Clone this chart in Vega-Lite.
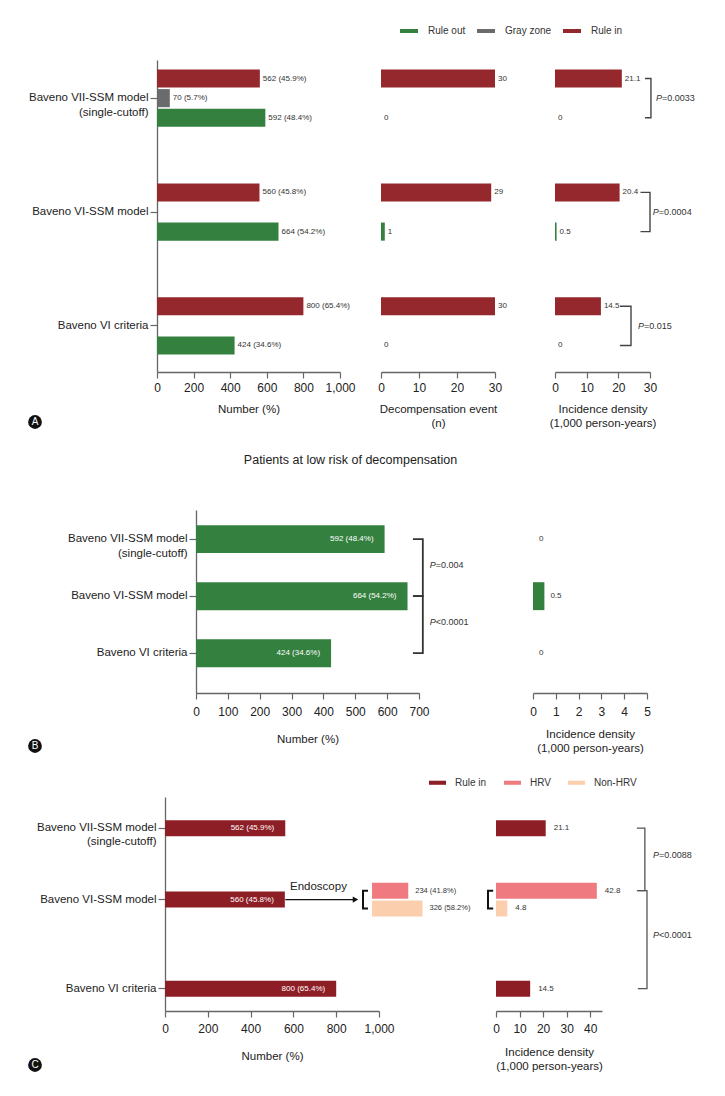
{
"$schema": "https://vega.github.io/schema/vega-lite/v6.json",
"background": "white",
"padding": 0,
"bounds": "flush",
"spacing": 0,
"config": {
  "font": "Liberation Sans",
  "view": {"stroke": null},
  "axis": {"labelFontSize": 12, "labelColor": "#222", "titleFontSize": 11.5, "titleFontWeight": "normal", "titleColor": "#222", "domainColor": "#666", "tickColor": "#666", "domainWidth": 1.3, "tickWidth": 1.2, "grid": false, "labelFlush": false, "labelOverlap": false},
  "axisX": {"tickSize": 6, "labelPadding": 4, "titlePadding": 10, "titleLineHeight": 14},
  "axisY": {"tickSize": 7, "labelPadding": 2, "labelFontSize": 11.5, "labelLineHeight": 15, "labelLimit": 300},
  "title": {"fontWeight": "normal", "fontSize": 12.5, "color": "#222"}
},
"resolve": {"scale": {"color": "independent"}},
"datasets": {
  "a": [
    {"model": "Baveno VII-SSM model (single-cutoff)", "type": "Rule in", "n": 562, "nlab": "562 (45.9%)", "ev": 30, "evlab": "30", "inc": 21.1, "inclab": "21.1"},
    {"model": "Baveno VII-SSM model (single-cutoff)", "type": "Gray zone", "n": 70, "nlab": "70 (5.7%)"},
    {"model": "Baveno VII-SSM model (single-cutoff)", "type": "Rule out", "n": 592, "nlab": "592 (48.4%)", "ev": 0, "evlab": "0", "inc": 0, "inclab": "0"},
    {"model": "Baveno VI-SSM model", "type": "Rule in", "n": 560, "nlab": "560 (45.8%)", "ev": 29, "evlab": "29", "inc": 20.4, "inclab": "20.4"},
    {"model": "Baveno VI-SSM model", "type": "Rule out", "n": 664, "nlab": "664 (54.2%)", "ev": 1, "evlab": "1", "inc": 0.5, "inclab": "0.5"},
    {"model": "Baveno VI criteria", "type": "Rule in", "n": 800, "nlab": "800 (65.4%)", "ev": 30, "evlab": "30", "inc": 14.5, "inclab": "14.5"},
    {"model": "Baveno VI criteria", "type": "Rule out", "n": 424, "nlab": "424 (34.6%)", "ev": 0, "evlab": "0", "inc": 0, "inclab": "0"}
  ],
  "abr": [
    {"model": "Baveno VII-SSM model (single-cutoff)", "type": "Rule in", "x": 28.4, "k": 1},
    {"model": "Baveno VII-SSM model (single-cutoff)", "type": "Rule in", "x": 30.3, "k": 2},
    {"model": "Baveno VII-SSM model (single-cutoff)", "type": "Rule out", "x": 30.3, "k": 3},
    {"model": "Baveno VII-SSM model (single-cutoff)", "type": "Rule out", "x": 28.4, "k": 4},
    {"model": "Baveno VI-SSM model", "type": "Rule in", "x": 27.0, "k": 1},
    {"model": "Baveno VI-SSM model", "type": "Rule in", "x": 30.0, "k": 2},
    {"model": "Baveno VI-SSM model", "type": "Rule out", "x": 30.0, "k": 3},
    {"model": "Baveno VI-SSM model", "type": "Rule out", "x": 27.0, "k": 4},
    {"model": "Baveno VI criteria", "type": "Rule in", "x": 20.5, "k": 1},
    {"model": "Baveno VI criteria", "type": "Rule in", "x": 24.0, "k": 2},
    {"model": "Baveno VI criteria", "type": "Rule out", "x": 24.0, "k": 3},
    {"model": "Baveno VI criteria", "type": "Rule out", "x": 20.5, "k": 4}
  ],
  "ap": [
    {"model": "Baveno VII-SSM model (single-cutoff)", "x": 31.9, "p": "=0.0033"},
    {"model": "Baveno VI-SSM model", "x": 30.9, "p": "=0.0004"},
    {"model": "Baveno VI criteria", "x": 26.2, "p": "=0.015"}
  ],
  "b": [
    {"model": "Baveno VII-SSM model (single-cutoff)", "n": 592, "nlab": "592 (48.4%)", "inc": 0, "inclab": "0"},
    {"model": "Baveno VI-SSM model", "n": 664, "nlab": "664 (54.2%)", "inc": 0.5, "inclab": "0.5"},
    {"model": "Baveno VI criteria", "n": 424, "nlab": "424 (34.6%)", "inc": 0, "inclab": "0"}
  ],
  "bbr": [
    {"g": 1, "model": "Baveno VII-SSM model (single-cutoff)", "x": 681, "k": 1},
    {"g": 1, "model": "Baveno VII-SSM model (single-cutoff)", "x": 712, "k": 2},
    {"g": 1, "model": "Baveno VI-SSM model", "x": 712, "k": 3},
    {"g": 1, "model": "Baveno VI-SSM model", "x": 681, "k": 4},
    {"g": 2, "model": "Baveno VI-SSM model", "x": 681, "k": 1},
    {"g": 2, "model": "Baveno VI-SSM model", "x": 712, "k": 2},
    {"g": 2, "model": "Baveno VI criteria", "x": 712, "k": 3},
    {"g": 2, "model": "Baveno VI criteria", "x": 681, "k": 4}
  ],
  "bp": [
    {"model": "Baveno VII-SSM model (single-cutoff)", "x": 734, "p": "=0.004"},
    {"model": "Baveno VI-SSM model", "x": 734, "p": "<0.0001"}
  ],
  "c1": [
    {"row": "Baveno VII-SSM model (single-cutoff)", "type": "Rule in", "n": 562, "lab": "562 (45.9%)"},
    {"row": "Baveno VI-SSM model", "type": "Rule in", "n": 560, "lab": "560 (45.8%)"},
    {"row": "Baveno VI criteria", "type": "Rule in", "n": 800, "lab": "800 (65.4%)"}
  ],
  "carrow": [
    {"row": "Baveno VI-SSM model", "x1": 562, "x2": 890, "tx": 717, "t": "Endoscopy"}
  ],
  "c2": [
    {"row": "HRV", "type": "HRV", "n": 234, "lab": "234 (41.8%)"},
    {"row": "Non-HRV", "type": "Non-HRV", "n": 326, "lab": "326 (58.2%)"}
  ],
  "c2br": [
    {"row": "HRV", "x": -26, "k": 1},
    {"row": "HRV", "x": -58, "k": 2},
    {"row": "Non-HRV", "x": -58, "k": 3},
    {"row": "Non-HRV", "x": -26, "k": 4}
  ],
  "c3": [
    {"row": "Baveno VII-SSM model (single-cutoff)", "type": "Rule in", "inc": 21.1, "lab": "21.1"},
    {"row": "HRV", "type": "HRV", "inc": 42.8, "lab": "42.8"},
    {"row": "Non-HRV", "type": "Non-HRV", "inc": 4.8, "lab": "4.8"},
    {"row": "Baveno VI criteria", "type": "Rule in", "inc": 14.5, "lab": "14.5"}
  ],
  "c3lbr": [
    {"row": "HRV", "x": -1.2, "k": 1},
    {"row": "HRV", "x": -3.4, "k": 2},
    {"row": "Non-HRV", "x": -3.4, "k": 3},
    {"row": "Non-HRV", "x": -1.2, "k": 4}
  ],
  "c3rbr": [
    {"g": 1, "row": "Baveno VII-SSM model (single-cutoff)", "x": 59.8, "k": 1},
    {"g": 1, "row": "Baveno VII-SSM model (single-cutoff)", "x": 63.2, "k": 2},
    {"g": 1, "row": "HRV", "x": 63.2, "k": 3},
    {"g": 1, "row": "HRV", "x": 59.8, "k": 4},
    {"g": 2, "row": "HRV", "x": 60.2, "k": 1},
    {"g": 2, "row": "HRV", "x": 64.1, "k": 2},
    {"g": 2, "row": "Baveno VI criteria", "x": 64.1, "k": 3},
    {"g": 2, "row": "Baveno VI criteria", "x": 60.2, "k": 4}
  ],
  "cp": [
    {"row": "Baveno VII-SSM model (single-cutoff)", "x": 66.6, "p": "=0.0088"},
    {"row": "Non-HRV", "x": 66.6, "p": "<0.0001"}
  ]
},
"vconcat": [
  {
    "width": 725, "height": 374,
    "view": {"fill": "white", "stroke": null},
    "resolve": {"scale": {"x": "independent"}, "axis": {"x": "independent"}},
    "layer": [
      {
        "data": {"name": "a"},
        "layer": [
          {
            "mark": {"type": "bar"},
            "encoding": {
              "y": {"field": "model", "type": "nominal", "scale": {"domain": ["Baveno VII-SSM model (single-cutoff)", "Baveno VI-SSM model", "Baveno VI criteria"], "range": [60, 372], "paddingInner": 0.4, "paddingOuter": 0.07, "align": 0.25}, "axis": {"orient": "left", "offset": -157, "title": null, "labelExpr": "datum.value == 'Baveno VII-SSM model (single-cutoff)' ? ['Baveno VII-SSM model', '(single-cutoff)'] : datum.value"}},
              "yOffset": {"field": "type", "type": "nominal", "scale": {"domain": ["Rule in", "Gray zone", "Rule out"], "paddingInner": 0.077, "paddingOuter": 0.282}},
              "x": {"field": "n", "type": "quantitative", "scale": {"domain": [0, 1000], "range": [157, 340], "nice": false}, "axis": {"orient": "bottom", "offset": -2, "values": [0, 200, 400, 600, 800, 1000], "format": ",d", "title": "Number (%)", "titlePadding": 10}},
              "color": {"field": "type", "type": "nominal", "scale": {"domain": ["Rule out", "Gray zone", "Rule in"], "range": ["#34803F", "#6A6B6D", "#94282D"]}, "legend": {"orient": "none", "legendX": 400, "legendY": 22, "direction": "horizontal", "title": null, "symbolType": "M-1,-0.22H1V0.22H-1Z", "symbolSize": 324, "symbolStrokeWidth": 0, "symbolOpacity": 1, "labelFontSize": 10, "labelColor": "#333", "labelOffset": 10, "columnPadding": 11, "padding": 0}}
            }
          },
          {
            "mark": {"type": "text", "align": "left", "baseline": "middle", "dx": 3, "fontSize": 8, "color": "#333"},
            "encoding": {
              "y": {"field": "model", "type": "nominal"},
              "yOffset": {"field": "type", "type": "nominal"},
              "x": {"field": "n", "type": "quantitative"},
              "text": {"field": "nlab"}
            }
          }
        ]
      },
      {
        "data": {"name": "a"},
        "transform": [{"filter": "isValid(datum.ev)"}],
        "layer": [
          {
            "mark": {"type": "bar"},
            "encoding": {
              "y": {"field": "model", "type": "nominal"},
              "yOffset": {"field": "type", "type": "nominal"},
              "x": {"field": "ev", "type": "quantitative", "scale": {"domain": [0, 30], "range": [381, 495], "nice": false}, "axis": {"orient": "bottom", "offset": -2, "values": [0, 10, 20, 30], "title": ["Decompensation event", "(n)"], "titlePadding": 10}},
              "color": {"field": "type", "type": "nominal"}
            }
          },
          {
            "mark": {"type": "text", "align": "left", "baseline": "middle", "dx": 3, "fontSize": 8, "color": "#333"},
            "encoding": {
              "y": {"field": "model", "type": "nominal"},
              "yOffset": {"field": "type", "type": "nominal"},
              "x": {"field": "ev", "type": "quantitative"},
              "text": {"field": "evlab"}
            }
          }
        ]
      },
      {
        "data": {"name": "a"},
        "transform": [{"filter": "isValid(datum.inc)"}],
        "layer": [
          {
            "mark": {"type": "bar"},
            "encoding": {
              "y": {"field": "model", "type": "nominal"},
              "yOffset": {"field": "type", "type": "nominal"},
              "x": {"field": "inc", "type": "quantitative", "scale": {"domain": [0, 30], "range": [555, 650], "nice": false}, "axis": {"orient": "bottom", "offset": -2, "values": [0, 10, 20, 30], "title": ["Incidence density", "(1,000 person-years)"], "titlePadding": 10}},
              "color": {"field": "type", "type": "nominal"}
            }
          },
          {
            "mark": {"type": "text", "align": "left", "baseline": "middle", "dx": 3, "fontSize": 8, "color": "#333"},
            "encoding": {
              "y": {"field": "model", "type": "nominal"},
              "yOffset": {"field": "type", "type": "nominal"},
              "x": {"field": "inc", "type": "quantitative"},
              "text": {"field": "inclab"}
            }
          },
          {
            "data": {"name": "abr"},
            "mark": {"type": "line", "color": "#444", "strokeWidth": 1.4},
            "encoding": {
              "x": {"field": "x", "type": "quantitative"},
              "y": {"field": "model", "type": "nominal"},
              "yOffset": {"field": "type", "type": "nominal"},
              "detail": {"field": "model", "type": "nominal"},
              "order": {"field": "k", "type": "quantitative"}
            }
          },
          {
            "data": {"name": "ap"},
            "mark": {"type": "text", "text": "P", "fontStyle": "italic", "align": "left", "baseline": "middle", "fontSize": 9, "color": "#333"},
            "encoding": {
              "x": {"field": "x", "type": "quantitative"},
              "y": {"field": "model", "type": "nominal"}
            }
          },
          {
            "data": {"name": "ap"},
            "mark": {"type": "text", "align": "left", "baseline": "middle", "fontSize": 9, "color": "#333", "dx": 6},
            "encoding": {
              "x": {"field": "x", "type": "quantitative"},
              "y": {"field": "model", "type": "nominal"},
              "text": {"field": "p"}
            }
          }
        ]
      }
    ]
  },
  {
    "width": 70, "height": 96,
    "data": {"values": [{"l": "A"}]},
    "layer": [
      {"mark": {"type": "circle", "size": 190, "color": "#111", "opacity": 1}},
      {"mark": {"type": "text", "color": "white", "fontSize": 10, "baseline": "middle", "align": "center"}, "encoding": {"text": {"field": "l"}}}
    ]
  },
  {
    "width": 725, "height": 228,
    "title": {"text": "Patients at low risk of decompensation", "anchor": "middle", "frame": "group", "offset": 4, "dx": -12},
    "resolve": {"scale": {"x": "independent"}, "axis": {"x": "independent"}},
    "layer": [
      {
        "data": {"name": "b"},
        "layer": [
          {
            "mark": {"type": "bar", "color": "#34803F"},
            "encoding": {
              "y": {"field": "model", "type": "nominal", "scale": {"domain": ["Baveno VII-SSM model (single-cutoff)", "Baveno VI-SSM model", "Baveno VI criteria"], "range": [40, 223], "paddingInner": 0.51, "paddingOuter": 0.36, "align": 0.37}, "axis": {"orient": "left", "offset": -196, "title": null, "labelExpr": "datum.value == 'Baveno VII-SSM model (single-cutoff)' ? ['Baveno VII-SSM model', '(single-cutoff)'] : datum.value"}},
              "x": {"field": "n", "type": "quantitative", "scale": {"domain": [0, 700], "range": [196, 419], "nice": false}, "axis": {"orient": "bottom", "offset": -5, "values": [0, 100, 200, 300, 400, 500, 600, 700], "format": "d", "title": "Number (%)", "labelPadding": 7, "titlePadding": 16}}
            }
          },
          {
            "mark": {"type": "text", "align": "right", "baseline": "middle", "dx": -11, "fontSize": 8, "color": "white"},
            "encoding": {
              "y": {"field": "model", "type": "nominal"},
              "x": {"field": "n", "type": "quantitative"},
              "text": {"field": "nlab"}
            }
          },
          {
            "data": {"name": "bbr"},
            "mark": {"type": "line", "color": "#333", "strokeWidth": 1.8},
            "encoding": {
              "x": {"field": "x", "type": "quantitative"},
              "y": {"field": "model", "type": "nominal"},
              "detail": {"field": "g", "type": "nominal"},
              "order": {"field": "k", "type": "quantitative"}
            }
          },
          {
            "data": {"name": "bp"},
            "mark": {"type": "text", "text": "P", "fontStyle": "italic", "align": "left", "baseline": "middle", "fontSize": 9, "color": "#333", "dy": 26},
            "encoding": {
              "x": {"field": "x", "type": "quantitative"},
              "y": {"field": "model", "type": "nominal"}
            }
          },
          {
            "data": {"name": "bp"},
            "mark": {"type": "text", "align": "left", "baseline": "middle", "fontSize": 9, "color": "#333", "dx": 6, "dy": 26},
            "encoding": {
              "x": {"field": "x", "type": "quantitative"},
              "y": {"field": "model", "type": "nominal"},
              "text": {"field": "p"}
            }
          }
        ]
      },
      {
        "data": {"name": "b"},
        "layer": [
          {
            "mark": {"type": "bar", "color": "#34803F"},
            "encoding": {
              "y": {"field": "model", "type": "nominal"},
              "x": {"field": "inc", "type": "quantitative", "scale": {"domain": [0, 5], "range": [533, 647], "nice": false}, "axis": {"orient": "bottom", "offset": -5, "values": [0, 1, 2, 3, 4, 5], "format": "d", "title": ["Incidence density", "(1,000 person-years)"], "labelPadding": 7, "titlePadding": 11}}
            }
          },
          {
            "mark": {"type": "text", "align": "left", "baseline": "middle", "dx": 6, "fontSize": 8, "color": "#333"},
            "encoding": {
              "y": {"field": "model", "type": "nominal"},
              "x": {"field": "inc", "type": "quantitative"},
              "text": {"field": "inclab"}
            }
          }
        ]
      }
    ]
  },
  {
    "width": 70, "height": 96,
    "data": {"values": [{"l": "B"}]},
    "layer": [
      {"mark": {"type": "circle", "size": 190, "color": "#111", "opacity": 1}},
      {"mark": {"type": "text", "color": "white", "fontSize": 10, "baseline": "middle", "align": "center"}, "encoding": {"text": {"field": "l"}}}
    ]
  },
  {
    "width": 725, "height": 255,
    "resolve": {"scale": {"x": "independent"}, "axis": {"x": "independent"}},
    "layer": [
      {
        "data": {"name": "c1"},
        "layer": [
          {
            "mark": {"type": "bar", "height": 16},
            "encoding": {
              "y": {"field": "row", "type": "nominal", "scale": {"domain": ["_0", "_1", "_2", "Baveno VII-SSM model (single-cutoff)", "_4", "_5", "_6", "_7", "_8", "_9", "HRV", "Baveno VI-SSM model", "Non-HRV", "_13", "_14", "_15", "_16", "_17", "_18", "_19", "_20", "Baveno VI criteria", "_22", "_23"], "range": [3, 217], "paddingInner": 0, "paddingOuter": 0}, "axis": {"orient": "left", "offset": -165, "title": null, "values": ["Baveno VII-SSM model (single-cutoff)", "Baveno VI-SSM model", "Baveno VI criteria"], "labelLineHeight": 14, "labelExpr": "datum.value == 'Baveno VII-SSM model (single-cutoff)' ? ['Baveno VII-SSM model', '(single-cutoff)'] : datum.value"}},
              "x": {"field": "n", "type": "quantitative", "scale": {"domain": [0, 1000], "range": [165, 379], "nice": false}, "axis": {"orient": "bottom", "offset": -38, "values": [0, 200, 400, 600, 800, 1000], "format": ",d", "title": "Number (%)", "labelPadding": 6, "titlePadding": 16}},
              "color": {"field": "type", "type": "nominal", "scale": {"domain": ["Rule in", "HRV", "Non-HRV"], "range": ["#8E1E25", "#EF7B80", "#FBCFAE"]}, "legend": {"orient": "none", "legendX": 429, "legendY": -20, "direction": "horizontal", "title": null, "symbolType": "M-1,-0.24H1V0.24H-1Z", "symbolSize": 289, "symbolStrokeWidth": 0, "symbolOpacity": 1, "labelFontSize": 10, "labelColor": "#333", "labelOffset": 9, "columnPadding": 17, "padding": 0}}
            }
          },
          {
            "mark": {"type": "text", "align": "right", "baseline": "middle", "dx": -11, "fontSize": 8, "color": "white"},
            "encoding": {
              "y": {"field": "row", "type": "nominal"},
              "x": {"field": "n", "type": "quantitative"},
              "text": {"field": "lab"}
            }
          },
          {
            "data": {"name": "carrow"},
            "mark": {"type": "rule", "color": "#111", "strokeWidth": 1.2},
            "encoding": {
              "x": {"field": "x1", "type": "quantitative"},
              "x2": {"field": "x2"},
              "y": {"field": "row", "type": "nominal"}
            }
          },
          {
            "data": {"name": "carrow"},
            "mark": {"type": "point", "shape": "triangle-right", "filled": true, "size": 40, "color": "#111", "opacity": 1},
            "encoding": {
              "x": {"field": "x2", "type": "quantitative"},
              "y": {"field": "row", "type": "nominal"}
            }
          },
          {
            "data": {"name": "carrow"},
            "mark": {"type": "text", "dy": -13, "fontSize": 11.5, "color": "#222", "baseline": "middle", "align": "center"},
            "encoding": {
              "x": {"field": "tx", "type": "quantitative"},
              "y": {"field": "row", "type": "nominal"},
              "text": {"field": "t"}
            }
          }
        ]
      },
      {
        "data": {"name": "c2"},
        "layer": [
          {
            "mark": {"type": "bar", "height": 16},
            "encoding": {
              "y": {"field": "row", "type": "nominal"},
              "x": {"field": "n", "type": "quantitative", "scale": {"domain": [0, 400], "range": [372, 434], "nice": false}, "axis": null},
              "color": {"field": "type", "type": "nominal"}
            }
          },
          {
            "mark": {"type": "text", "align": "left", "baseline": "middle", "dx": 7, "fontSize": 7.5, "color": "#333"},
            "encoding": {
              "y": {"field": "row", "type": "nominal"},
              "x": {"field": "n", "type": "quantitative"},
              "text": {"field": "lab"}
            }
          },
          {
            "data": {"name": "c2br"},
            "mark": {"type": "line", "color": "#111", "strokeWidth": 2},
            "encoding": {
              "x": {"field": "x", "type": "quantitative"},
              "y": {"field": "row", "type": "nominal"},
              "order": {"field": "k", "type": "quantitative"}
            }
          }
        ]
      },
      {
        "data": {"name": "c3"},
        "layer": [
          {
            "mark": {"type": "bar", "height": 16},
            "encoding": {
              "y": {"field": "row", "type": "nominal"},
              "x": {"field": "inc", "type": "quantitative", "scale": {"domain": [0, 45], "range": [496, 602], "nice": false}, "axis": {"orient": "bottom", "offset": -38, "values": [0, 10, 20, 30, 40], "title": ["Incidence density", "(1,000 person-years)"], "labelPadding": 6, "titlePadding": 12}},
              "color": {"field": "type", "type": "nominal"}
            }
          },
          {
            "mark": {"type": "text", "align": "left", "baseline": "middle", "dx": 8, "fontSize": 8, "color": "#333"},
            "encoding": {
              "y": {"field": "row", "type": "nominal"},
              "x": {"field": "inc", "type": "quantitative"},
              "text": {"field": "lab"}
            }
          },
          {
            "data": {"name": "c3lbr"},
            "mark": {"type": "line", "color": "#111", "strokeWidth": 2},
            "encoding": {
              "x": {"field": "x", "type": "quantitative"},
              "y": {"field": "row", "type": "nominal"},
              "order": {"field": "k", "type": "quantitative"}
            }
          },
          {
            "data": {"name": "c3rbr"},
            "mark": {"type": "line", "color": "#555", "strokeWidth": 1.3},
            "encoding": {
              "x": {"field": "x", "type": "quantitative"},
              "y": {"field": "row", "type": "nominal"},
              "detail": {"field": "g", "type": "nominal"},
              "order": {"field": "k", "type": "quantitative"}
            }
          },
          {
            "data": {"name": "cp"},
            "mark": {"type": "text", "text": "P", "fontStyle": "italic", "align": "left", "baseline": "middle", "fontSize": 9, "color": "#333", "dy": 27},
            "encoding": {
              "x": {"field": "x", "type": "quantitative"},
              "y": {"field": "row", "type": "nominal"}
            }
          },
          {
            "data": {"name": "cp"},
            "mark": {"type": "text", "align": "left", "baseline": "middle", "fontSize": 9, "color": "#333", "dx": 6, "dy": 27},
            "encoding": {
              "x": {"field": "x", "type": "quantitative"},
              "y": {"field": "row", "type": "nominal"},
              "text": {"field": "p"}
            }
          }
        ]
      }
    ]
  },
  {
    "width": 70, "height": 32,
    "data": {"values": [{"l": "C"}]},
    "layer": [
      {"mark": {"type": "circle", "size": 190, "color": "#111", "opacity": 1}},
      {"mark": {"type": "text", "color": "white", "fontSize": 10, "baseline": "middle", "align": "center"}, "encoding": {"text": {"field": "l"}}}
    ]
  }
]
}
